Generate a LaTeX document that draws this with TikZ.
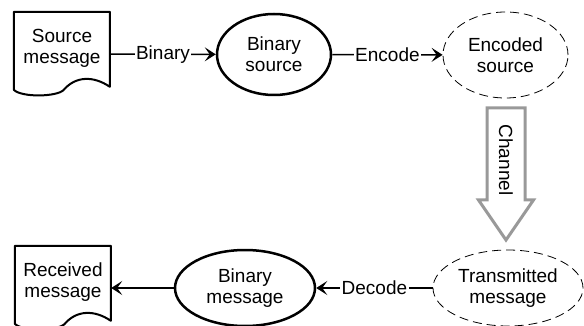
\documentclass[tikz,border=0pt]{standalone}
\usepackage{fontspec}
\setmainfont{Liberation Sans}
\usetikzlibrary{shapes.geometric,arrows.meta}

% document symbol: box with a wavy bottom edge, drawn over node #1
\newcommand{\docoutline}[1]{%
	\draw[line width=2pt, line join=round, shift={(#1.north west)}]
		(0,0) -- (96,0) -- (96,75)
		.. controls (80,64) and (62,64) .. (50,78)
		.. controls (44,85) and (8,86) .. (0,78) -- cycle;}

\begin{document}
\begin{tikzpicture}[x=1pt, y=-1pt,
	every node/.style={font=\fontsize{19}{21}\selectfont, align=center, inner sep=0pt},
	docbox/.style={minimum width=96pt, minimum height=84pt},
	solidell/.style={draw, ellipse, line width=2.5pt},
	dashell/.style={draw, ellipse, line width=0.8pt, dash pattern=on 9pt off 5pt},
	conn/.style={line width=1.6pt, -{Stealth[length=11pt, width=14pt, inset=5pt]}},
	lbl/.style={fill=white, inner sep=1.5pt}]
	\useasboundingbox (0,0) rectangle (584,326);
	\clip (0,0) rectangle (584,326);

	% top row
	\node[docbox] (src) at (62,54) {};
	\node (srctxt) at (62,48) {Source\\message};
	\docoutline{src}
	\node[solidell, minimum width=114pt, minimum height=81pt] (bsrc) at (274,54.5) {Binary\\source};
	\node[dashell, minimum width=125pt, minimum height=86pt] (enc) at (505.5,55) {Encoded\\source};

	% bottom row
	\node[dashell, minimum width=150pt, minimum height=76pt] (trans) at (508,288) {Transmitted\\message};
	\node[solidell, minimum width=140pt, minimum height=76pt] (bmsg) at (245,288) {Binary\\message};
	\node[docbox] (rcv) at (63,288) {};
	\node (rcvtxt) at (63,282) {Received\\message};
	\docoutline{rcv}

	\draw[conn] (src) -- node[lbl] {Binary} (bsrc);
	\draw[conn] (bsrc) -- node[lbl] {Encode} (enc);
	\draw[conn] (trans) -- node[lbl] {Decode} (bmsg);
	\draw[conn] (bmsg) -- (rcv);

	% channel block arrow
	\coordinate (chtop) at (506,108);
	\coordinate (chtip) at (506,240);
	\draw[line width=3pt, draw=black!40, fill=white, line join=miter]
		(chtop) ++(-19,0) -- ++(38,0) -- ++(0,92) -- ++(8.5,0) -- (chtip)
		-- ++(-27.5,-40) -- ++(8.5,0) -- cycle;
	\node[rotate=-90] (chlbl) at (506,160) {Channel};
\end{tikzpicture}
\end{document}
